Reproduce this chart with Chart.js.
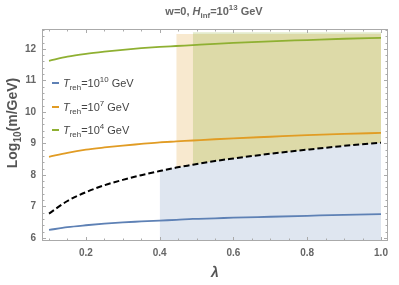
<!DOCTYPE html>
<html>
<head>
<meta charset="utf-8">
<script src="https://cdn.jsdelivr.net/npm/chart.js@4.4.0/dist/chart.umd.min.js"></script>
<style>
  html, body { margin: 0; padding: 0; background: #fff; }
  #wrap { width: 399px; height: 285px; }
</style>
</head>
<body>
<div id="wrap"><canvas id="chart"></canvas></div>
<script>
// lambda grid and curves
const lambdas  = [0.1, 0.15, 0.2, 0.25, 0.3, 0.35, 0.4, 0.445, 0.49, 0.55, 0.6, 0.7, 0.8, 0.9, 1.0];
const treh1e10 = [6.25, 6.34, 6.40, 6.45, 6.49, 6.52, 6.55, 6.57, 6.60, 6.62, 6.64, 6.67, 6.70, 6.73, 6.75];
const treh1e7  = [8.57, 8.70, 8.80, 8.87, 8.93, 8.98, 9.03, 9.06, 9.09, 9.13, 9.16, 9.21, 9.26, 9.30, 9.33];
const treh1e4  = [11.62, 11.75, 11.84, 11.91, 11.97, 12.02, 12.06, 12.09, 12.12, 12.16, 12.19, 12.24, 12.28, 12.32, 12.35];
const boundary = [6.77, 7.17, 7.45, 7.67, 7.84, 7.99, 8.12, 8.23, 8.32, 8.44, 8.52, 8.67, 8.80, 8.92, 9.02];

// shaded regions: start lambda and upper limit
const blueStart = 0.4;
const orangeStart = 0.445, orangeTop = 12.47;
const greenStart = 0.49, greenTop = 12.53;

const xTicks = [0.2, 0.4, 0.6, 0.8, 1.0];
const yTicks = [6, 7, 8, 9, 10, 11, 12];

const legendItems = [
    { exp: '10', color: '#5E81B5' },
    { exp: '7', color: '#E19C24' },
    { exp: '4', color: '#8FB032' }
];

const FONT = '"Liberation Sans", Arial, sans-serif';

function pts(ys, from) {
    const out = [];
    lambdas.forEach((l, i) => { if (l >= from - 1e-9) out.push({ x: l, y: ys[i] }); });
    return out;
}

// draw a run of text pieces, some italic / sub / sup
function drawRich(ctx, x, y, parts, size, weight, color, align) {
    const fontFor = p => (p.i ? 'italic ' : '') + weight + ' ' + ((p.sub || p.sup) ? size * 0.72 : size) + 'px ' + FONT;
    let total = 0;
    parts.forEach(p => { ctx.font = fontFor(p); total += ctx.measureText(p.t).width; });
    let cx = align === 'center' ? x - total / 2 : x;
    ctx.fillStyle = color;
    ctx.textBaseline = 'alphabetic';
    ctx.textAlign = 'left';
    parts.forEach(p => {
        ctx.font = fontFor(p);
        let dy = 0;
        if (p.sub) dy = size * 0.3;
        if (p.sup) dy = -size * 0.42;
        ctx.fillText(p.t, cx, y + dy);
        cx += ctx.measureText(p.t).width;
    });
}

const decorations = {
    id: 'decorations',
    afterDraw(chart) {
        const ctx = chart.ctx;
        const a = chart.chartArea;
        const xs = chart.scales.x, ys = chart.scales.y;
        ctx.save();

        // frame with ticks on all four sides
        ctx.strokeStyle = '#aaaaaa';
        ctx.lineWidth = 1;
        ctx.strokeRect(a.left + 0.5, a.top + 0.5, a.right - a.left - 1, a.bottom - a.top - 1);
        ctx.beginPath();
        for (let v = 0.1; v <= 1.0001; v += 0.05) {
            const px = Math.round(xs.getPixelForValue(v)) + 0.5;
            const major = Math.abs(v * 5 - Math.round(v * 5)) < 1e-6;
            const len = major ? 4 : 2.5;
            ctx.moveTo(px, a.bottom); ctx.lineTo(px, a.bottom - len);
            ctx.moveTo(px, a.top); ctx.lineTo(px, a.top + len);
        }
        for (let v = 6; v <= 12.61; v += 0.2) {
            const py = Math.round(ys.getPixelForValue(v)) + 0.5;
            const major = Math.abs(v - Math.round(v)) < 1e-6;
            const len = major ? 4 : 2.5;
            ctx.moveTo(a.left, py); ctx.lineTo(a.left + len, py);
            ctx.moveTo(a.right, py); ctx.lineTo(a.right - len, py);
        }
        ctx.stroke();

        // title
        drawRich(ctx, 214, 15, [
            { t: 'w=0, ' }, { t: 'H', i: true }, { t: 'inf', sub: true },
            { t: '=10' }, { t: '13', sup: true }, { t: ' GeV' }
        ], 11, 'bold', '#666666', 'center');

        // axis titles
        drawRich(ctx, 215, 277, [{ t: 'λ', i: true }], 14, 'bold', '#555555', 'center');
        ctx.save();
        ctx.translate(17, 123);
        ctx.rotate(-Math.PI / 2);
        drawRich(ctx, 0, 0, [{ t: 'Log' }, { t: '10', sub: true }, { t: '(m/GeV)' }], 14, 'bold', '#555555', 'center');
        ctx.restore();

        // legend
        const legendY = [83, 107, 130];
        legendItems.forEach((item, k) => {
            const y = legendY[k];
            ctx.strokeStyle = item.color;
            ctx.lineWidth = 2;
            ctx.beginPath();
            ctx.moveTo(52, y); ctx.lineTo(59, y);
            ctx.stroke();
            drawRich(ctx, 63, y + 3.5, [
                { t: 'T', i: true }, { t: 'reh', sub: true },
                { t: '=10' }, { t: item.exp, sup: true }, { t: ' GeV' }
            ], 11, 'normal', '#444444', 'left');
        });
        ctx.restore();
    }
};

const lineStyle = { fill: false, pointRadius: 0, borderWidth: 1.8, cubicInterpolationMode: 'monotone', order: 1 };

new Chart(document.getElementById('chart'), {
    type: 'line',
    data: {
        datasets: [
            { data: pts(boundary, blueStart), fill: 'start', backgroundColor: 'rgba(94,129,181,0.2)', borderWidth: 0, pointRadius: 0, cubicInterpolationMode: 'monotone', order: 10 },
            { data: pts(boundary, orangeStart), fill: { value: orangeTop }, backgroundColor: 'rgba(225,156,36,0.22)', borderWidth: 0, pointRadius: 0, cubicInterpolationMode: 'monotone', order: 11 },
            { data: pts(boundary, greenStart), fill: { value: greenTop }, backgroundColor: 'rgba(143,176,50,0.25)', borderWidth: 0, pointRadius: 0, cubicInterpolationMode: 'monotone', order: 10 },
            { ...lineStyle, data: pts(treh1e10, 0), borderColor: '#5E81B5' },
            { ...lineStyle, data: pts(treh1e7, 0), borderColor: '#E19C24' },
            { ...lineStyle, data: pts(treh1e4, 0), borderColor: '#8FB032' },
            { ...lineStyle, data: pts(boundary, 0), borderColor: '#000000', borderWidth: 2, borderDash: [6, 3] }
        ]
    },
    options: {
        responsive: true,
        maintainAspectRatio: false,
        animation: false,
        layout: { padding: { top: 29, right: 11, left: 0, bottom: 0 } },
        plugins: { legend: { display: false }, tooltip: { enabled: false } },
        scales: {
            x: {
                type: 'linear', min: 0.081, max: 1.019,
                afterFit(s) { s.height = 44; },
                afterBuildTicks(s) { s.ticks = xTicks.map(v => ({ value: v })); },
                grid: { display: false, drawTicks: false },
                border: { display: false },
                ticks: { padding: 6, color: '#666666', font: { family: FONT, size: 10, weight: 'bold' }, callback: v => v.toFixed(1) }
            },
            y: {
                type: 'linear', min: 5.9, max: 12.63,
                afterFit(s) { s.width = 42; },
                afterBuildTicks(s) { s.ticks = yTicks.map(v => ({ value: v })); },
                grid: { display: false, drawTicks: false },
                border: { display: false },
                ticks: { padding: 6, color: '#666666', font: { family: FONT, size: 10, weight: 'bold' }, callback: v => String(v) }
            }
        }
    },
    plugins: [decorations]
});
</script>
</body>
</html>
